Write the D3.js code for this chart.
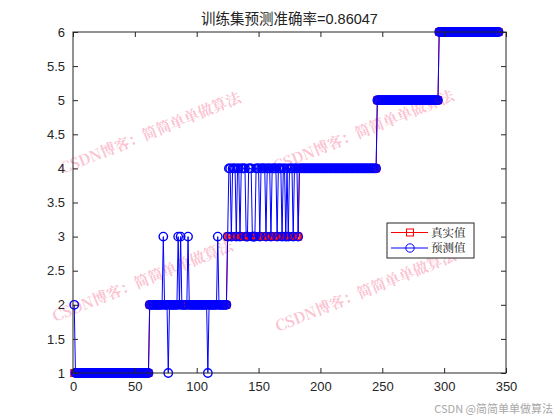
<!DOCTYPE html>
<html><head><meta charset="utf-8">
<script src="https://cdn.jsdelivr.net/npm/d3@7"></script>
<style>body{margin:0;background:#fff}svg{display:block}</style>
</head><body>
<svg id="c" width="560" height="420"></svg>
<script>
const titleText = "训练集预测准确率=0.86047";
const legendLabels = ["真实值", "预测值"];
const xTicks = [0, 50, 100, 150, 200, 250, 300, 350];
const yTicks = [1, 1.5, 2, 2.5, 3, 3.5, 4, 4.5, 5, 5.5, 6];
const watermark = "CSDN博客：简简单单做算法";
const footer = "CSDN @简简单单做算法";

const trueValues = [
1,1,1,1,1,1,1,1,1,1,1,1,1,1,1,1,1,1,1,1,
1,1,1,1,1,1,1,1,1,1,1,1,1,1,1,1,1,1,1,1,
1,1,1,1,1,1,1,1,1,1,1,1,1,1,1,1,1,1,1,1,
1,2,2,2,2,2,2,2,2,2,2,2,2,2,2,2,2,2,2,2,
2,2,2,2,2,2,2,2,2,2,2,2,2,2,2,2,2,2,2,2,
2,2,2,2,2,2,2,2,2,2,2,2,2,2,2,2,2,2,2,2,
2,2,2,2,3,3,3,3,3,3,3,3,3,3,3,3,3,3,3,3,
3,3,3,3,3,3,3,3,3,3,3,3,3,3,3,3,3,3,3,3,
3,3,3,3,3,3,3,3,3,3,3,3,3,3,3,3,3,3,3,3,
3,3,4,4,4,4,4,4,4,4,4,4,4,4,4,4,4,4,4,4,
4,4,4,4,4,4,4,4,4,4,4,4,4,4,4,4,4,4,4,4,
4,4,4,4,4,4,4,4,4,4,4,4,4,4,4,4,4,4,4,4,
4,4,4,4,4,5,5,5,5,5,5,5,5,5,5,5,5,5,5,5,
5,5,5,5,5,5,5,5,5,5,5,5,5,5,5,5,5,5,5,5,
5,5,5,5,5,5,5,5,5,5,5,5,5,5,5,6,6,6,6,6,
6,6,6,6,6,6,6,6,6,6,6,6,6,6,6,6,6,6,6,6,
6,6,6,6,6,6,6,6,6,6,6,6,6,6,6,6,6,6,6,6,
6,6,6,6];

const predValues = [
2,1,1,1,1,1,1,1,1,1,1,1,1,1,1,1,1,1,1,1,
1,1,1,1,1,1,1,1,1,1,1,1,1,1,1,1,1,1,1,1,
1,1,1,1,1,1,1,1,1,1,1,1,1,1,1,1,1,1,1,1,
1,2,2,2,2,2,2,2,2,2,2,2,3,2,2,2,1,2,2,2,
2,2,2,2,3,2,3,2,2,2,2,2,3,2,2,2,2,2,2,2,
2,2,2,2,2,2,2,2,1,2,2,2,2,2,2,2,3,2,2,2,
2,2,2,2,3,4,4,3,4,4,4,3,4,4,3,4,4,4,4,3,
3,4,4,4,3,3,3,4,4,4,3,4,4,4,4,3,4,4,4,3,
4,4,4,4,3,4,4,4,3,4,4,3,4,3,4,4,4,3,4,4,
4,3,4,4,4,4,4,4,4,4,4,4,4,4,4,4,4,4,4,4,
4,4,4,4,4,4,4,4,4,4,4,4,4,4,4,4,4,4,4,4,
4,4,4,4,4,4,4,4,4,4,4,4,4,4,4,4,4,4,4,4,
4,4,4,4,4,5,5,5,5,5,5,5,5,5,5,5,5,5,5,5,
5,5,5,5,5,5,5,5,5,5,5,5,5,5,5,5,5,5,5,5,
5,5,5,5,5,5,5,5,5,5,5,5,5,5,5,6,6,6,6,6,
6,6,6,6,6,6,6,6,6,6,6,6,6,6,6,6,6,6,6,6,
6,6,6,6,6,6,6,6,6,6,6,6,6,6,6,6,6,6,6,6,
6,6,6,6];

const svg = d3.select("#c");
const L = 73, R = 506, T = 32, B = 373;
const x = d3.scaleLinear().domain([0, 350]).range([L, R]);
const y = d3.scaleLinear().domain([1, 6]).range([B, T]);
const axisColor = "#262626";
const tickFont = "Liberation Sans, Arial, Helvetica, sans-serif";

// watermarks (behind)
const wm = svg.append("g");
[[63,174],[276,172],[55,322],[278,332]].forEach(p => {
  wm.append("text").attr("transform", `translate(${p[0]},${p[1]}) rotate(-22)`)
    .attr("font-family", "Noto Serif CJK SC, Noto Sans CJK SC, serif")
    .attr("font-size", 15).attr("font-weight", "bold")
    .attr("fill", "rgba(245,110,145,0.42)").text(watermark);
});

const idx = d3.range(1, trueValues.length + 1);
const pts = (arr) => idx.map((i, k) => [i, arr[k]]);
const line = d3.line().x(d => x(d[0])).y(d => y(d[1]));

const plot = svg.append("g");
// true series (red, squares)
plot.append("path").datum(pts(trueValues)).attr("d", line)
  .attr("fill", "none").attr("stroke", "#ff0000").attr("stroke-width", 1);
plot.append("g").selectAll("rect").data(pts(trueValues)).join("rect")
  .attr("x", d => x(d[0]) - 3.5).attr("y", d => y(d[1]) - 3.5)
  .attr("width", 7).attr("height", 7)
  .attr("fill", "none").attr("stroke", "#ff0000").attr("stroke-width", 1);
// predicted series (blue, circles)
plot.append("path").datum(pts(predValues)).attr("d", line)
  .attr("fill", "none").attr("stroke", "#0000ff").attr("stroke-width", 1);
plot.append("g").selectAll("circle").data(pts(predValues)).join("circle")
  .attr("cx", d => x(d[0])).attr("cy", d => y(d[1])).attr("r", 4.2)
  .attr("fill", "none").attr("stroke", "#0000ff").attr("stroke-width", 1.4);

// axes
const tl = 5;
const xb = svg.append("g").attr("transform", `translate(0,${B})`)
  .call(d3.axisBottom(x).tickValues(xTicks).tickSize(-tl).tickPadding(9).tickFormat(d3.format("d")));
const xt = svg.append("g").attr("transform", `translate(0,${T})`)
  .call(d3.axisTop(x).tickValues(xTicks).tickSize(-tl).tickFormat(""));
const yl = svg.append("g").attr("transform", `translate(${L},0)`)
  .call(d3.axisLeft(y).tickValues(yTicks).tickSize(-tl).tickPadding(8).tickFormat(d => String(d)));
const yr = svg.append("g").attr("transform", `translate(${R},0)`)
  .call(d3.axisRight(y).tickValues(yTicks).tickSize(-tl).tickFormat(""));
[xb, xt, yl, yr].forEach(g => {
  g.select(".domain").attr("stroke", axisColor).attr("d", null);
  g.selectAll(".tick line").attr("stroke", axisColor);
  g.selectAll("text").attr("fill", axisColor).attr("font-size", 13).attr("font-family", tickFont);
});
svg.append("rect").attr("x", L).attr("y", T).attr("width", R - L).attr("height", B - T)
  .attr("fill", "none").attr("stroke", axisColor).attr("stroke-width", 1);

// title
svg.append("text").attr("x", (L + R) / 2).attr("y", 24).attr("text-anchor", "middle")
  .attr("font-family", "Liberation Sans, Noto Sans CJK SC, sans-serif").attr("font-size", 14.5)
  .attr("fill", "#222").text(titleText);

// legend
const lg = svg.append("g");
lg.append("rect").attr("x", 387).attr("y", 223).attr("width", 87).attr("height", 35)
  .attr("fill", "#fff").attr("stroke", "#262626").attr("stroke-width", 1);
const lcol = ["#ff0000", "#0000ff"];
legendLabels.forEach((t, i) => {
  const yy = 232.5 + i * 15.5;
  lg.append("line").attr("x1", 391).attr("x2", 428).attr("y1", yy).attr("y2", yy)
    .attr("stroke", lcol[i]).attr("stroke-width", 1);
  if (i === 0) lg.append("rect").attr("x", 406.5).attr("y", yy - 3.5).attr("width", 7).attr("height", 7)
    .attr("fill", "none").attr("stroke", lcol[i]);
  else lg.append("circle").attr("cx", 410).attr("cy", yy).attr("r", 4.2)
    .attr("fill", "none").attr("stroke", lcol[i]);
  lg.append("text").attr("x", 431).attr("y", yy + 4.2)
    .attr("font-family", "Noto Serif CJK SC, Noto Sans CJK SC, serif").attr("font-size", 11.5)
    .attr("fill", "#111").text(t);
});

// footer
svg.append("text").attr("x", 553).attr("y", 413).attr("text-anchor", "end")
  .attr("font-family", "Noto Sans CJK SC, sans-serif").attr("font-size", 11)
  .attr("fill", "#a8a8a8").text(footer);
</script>
</body></html>
